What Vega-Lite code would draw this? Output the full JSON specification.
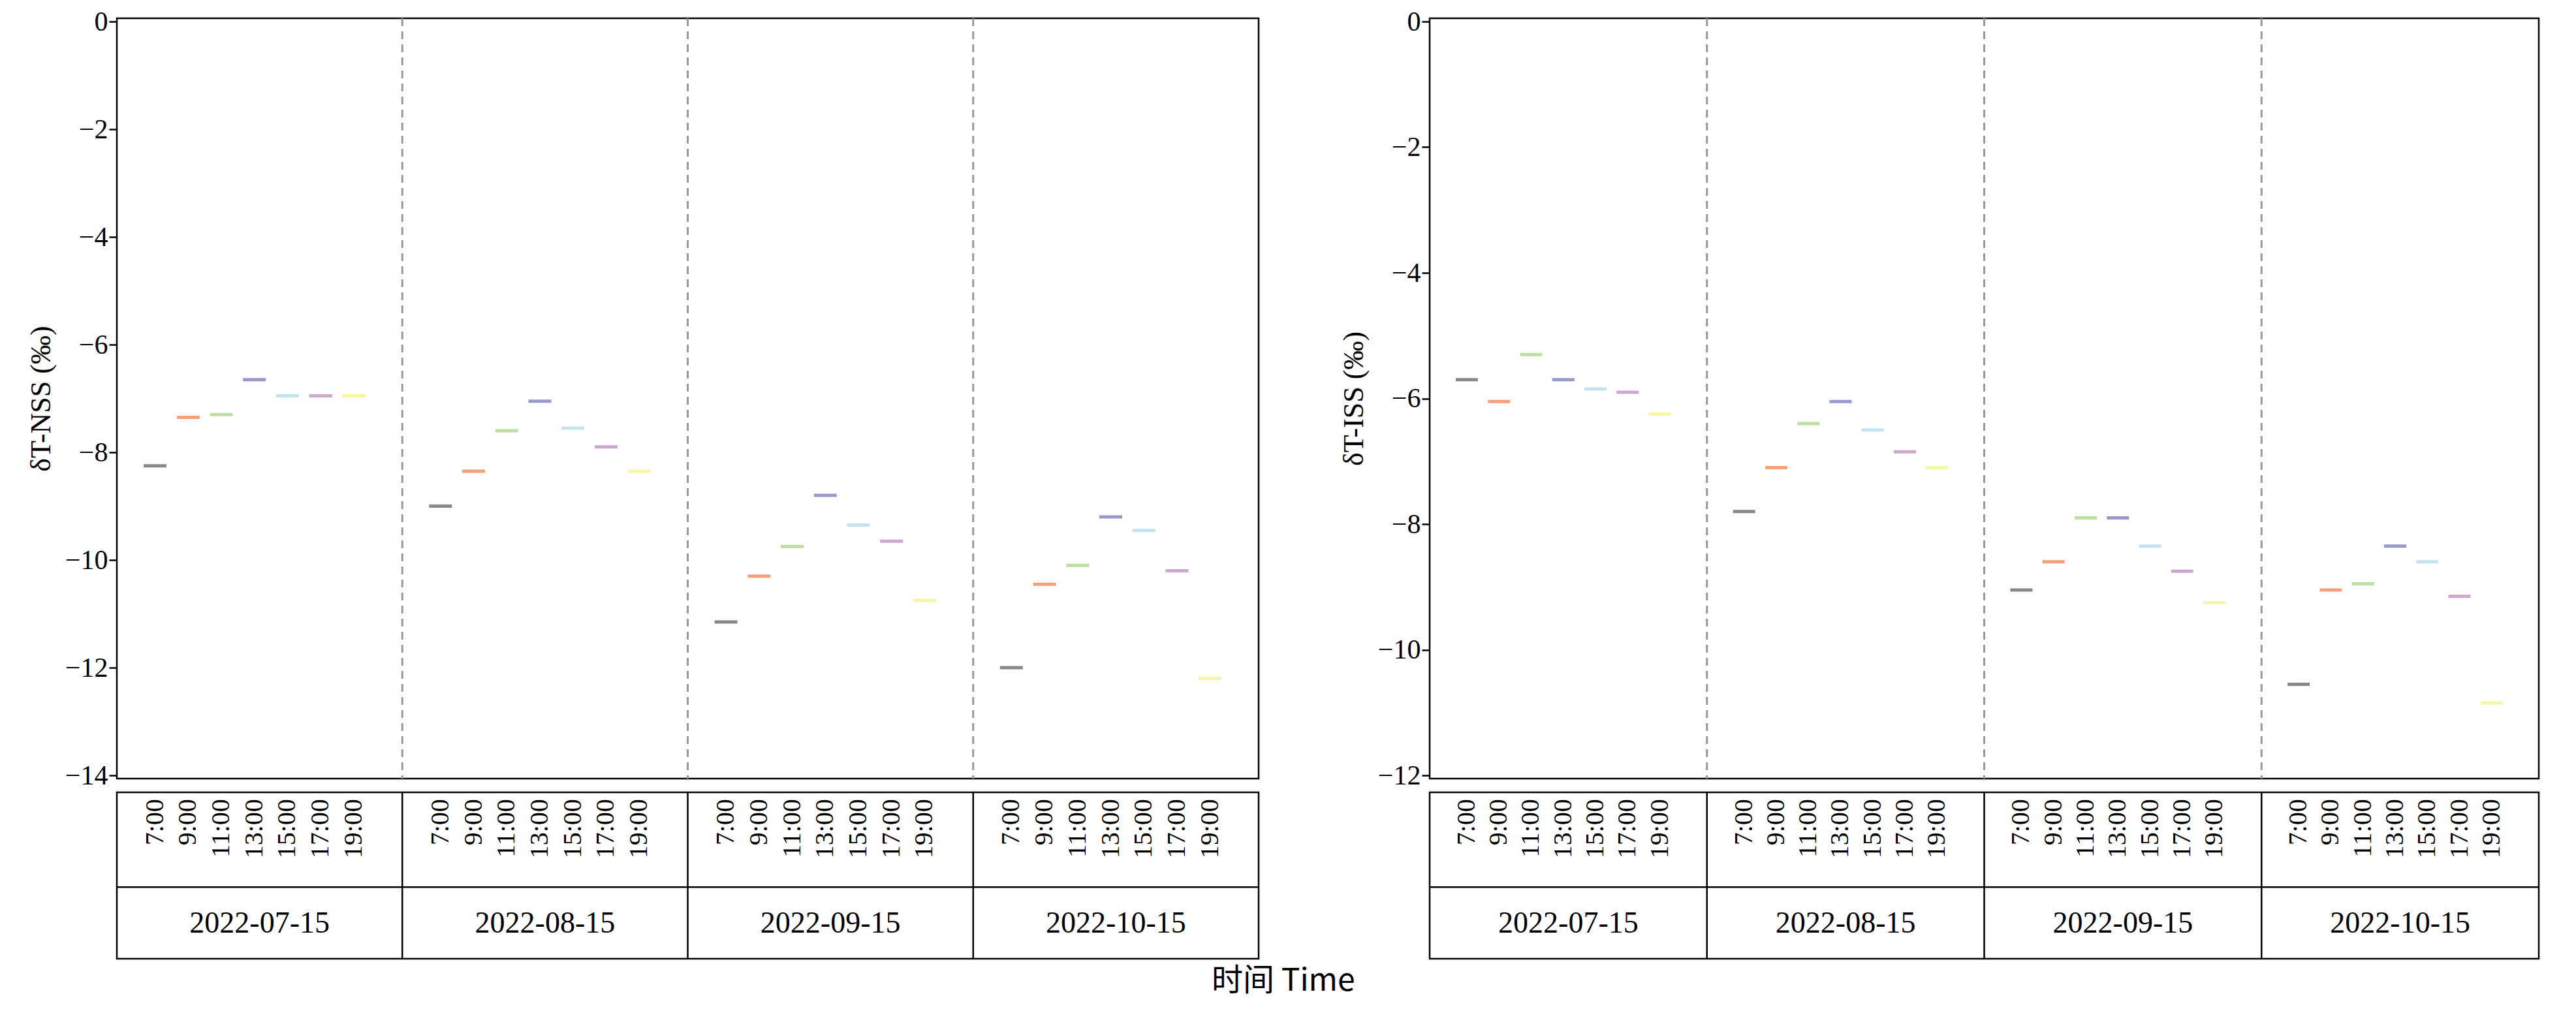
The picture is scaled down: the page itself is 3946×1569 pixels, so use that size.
{
  "$schema": "https://vega.github.io/schema/vega-lite/v6.json",
  "background": "white",
  "padding": {"left": 40, "top": 10, "right": 30, "bottom": 10},
  "datasets": {
    "d": [
      {"p": "N", "date": "2022-07-15", "g": 0, "i": 0, "time": "7:00", "v": -8.25},
      {"p": "N", "date": "2022-07-15", "g": 0, "i": 1, "time": "9:00", "v": -7.35},
      {"p": "N", "date": "2022-07-15", "g": 0, "i": 2, "time": "11:00", "v": -7.3},
      {"p": "N", "date": "2022-07-15", "g": 0, "i": 3, "time": "13:00", "v": -6.65},
      {"p": "N", "date": "2022-07-15", "g": 0, "i": 4, "time": "15:00", "v": -6.95},
      {"p": "N", "date": "2022-07-15", "g": 0, "i": 5, "time": "17:00", "v": -6.95},
      {"p": "N", "date": "2022-07-15", "g": 0, "i": 6, "time": "19:00", "v": -6.95},
      {"p": "N", "date": "2022-08-15", "g": 1, "i": 0, "time": "7:00", "v": -9.0},
      {"p": "N", "date": "2022-08-15", "g": 1, "i": 1, "time": "9:00", "v": -8.35},
      {"p": "N", "date": "2022-08-15", "g": 1, "i": 2, "time": "11:00", "v": -7.6},
      {"p": "N", "date": "2022-08-15", "g": 1, "i": 3, "time": "13:00", "v": -7.05},
      {"p": "N", "date": "2022-08-15", "g": 1, "i": 4, "time": "15:00", "v": -7.55},
      {"p": "N", "date": "2022-08-15", "g": 1, "i": 5, "time": "17:00", "v": -7.9},
      {"p": "N", "date": "2022-08-15", "g": 1, "i": 6, "time": "19:00", "v": -8.35},
      {"p": "N", "date": "2022-09-15", "g": 2, "i": 0, "time": "7:00", "v": -11.15},
      {"p": "N", "date": "2022-09-15", "g": 2, "i": 1, "time": "9:00", "v": -10.3},
      {"p": "N", "date": "2022-09-15", "g": 2, "i": 2, "time": "11:00", "v": -9.75},
      {"p": "N", "date": "2022-09-15", "g": 2, "i": 3, "time": "13:00", "v": -8.8},
      {"p": "N", "date": "2022-09-15", "g": 2, "i": 4, "time": "15:00", "v": -9.35},
      {"p": "N", "date": "2022-09-15", "g": 2, "i": 5, "time": "17:00", "v": -9.65},
      {"p": "N", "date": "2022-09-15", "g": 2, "i": 6, "time": "19:00", "v": -10.75},
      {"p": "N", "date": "2022-10-15", "g": 3, "i": 0, "time": "7:00", "v": -12.0},
      {"p": "N", "date": "2022-10-15", "g": 3, "i": 1, "time": "9:00", "v": -10.45},
      {"p": "N", "date": "2022-10-15", "g": 3, "i": 2, "time": "11:00", "v": -10.1},
      {"p": "N", "date": "2022-10-15", "g": 3, "i": 3, "time": "13:00", "v": -9.2},
      {"p": "N", "date": "2022-10-15", "g": 3, "i": 4, "time": "15:00", "v": -9.45},
      {"p": "N", "date": "2022-10-15", "g": 3, "i": 5, "time": "17:00", "v": -10.2},
      {"p": "N", "date": "2022-10-15", "g": 3, "i": 6, "time": "19:00", "v": -12.2},
      {"p": "I", "date": "2022-07-15", "g": 0, "i": 0, "time": "7:00", "v": -5.7},
      {"p": "I", "date": "2022-07-15", "g": 0, "i": 1, "time": "9:00", "v": -6.05},
      {"p": "I", "date": "2022-07-15", "g": 0, "i": 2, "time": "11:00", "v": -5.3},
      {"p": "I", "date": "2022-07-15", "g": 0, "i": 3, "time": "13:00", "v": -5.7},
      {"p": "I", "date": "2022-07-15", "g": 0, "i": 4, "time": "15:00", "v": -5.85},
      {"p": "I", "date": "2022-07-15", "g": 0, "i": 5, "time": "17:00", "v": -5.9},
      {"p": "I", "date": "2022-07-15", "g": 0, "i": 6, "time": "19:00", "v": -6.25},
      {"p": "I", "date": "2022-08-15", "g": 1, "i": 0, "time": "7:00", "v": -7.8},
      {"p": "I", "date": "2022-08-15", "g": 1, "i": 1, "time": "9:00", "v": -7.1},
      {"p": "I", "date": "2022-08-15", "g": 1, "i": 2, "time": "11:00", "v": -6.4},
      {"p": "I", "date": "2022-08-15", "g": 1, "i": 3, "time": "13:00", "v": -6.05},
      {"p": "I", "date": "2022-08-15", "g": 1, "i": 4, "time": "15:00", "v": -6.5},
      {"p": "I", "date": "2022-08-15", "g": 1, "i": 5, "time": "17:00", "v": -6.85},
      {"p": "I", "date": "2022-08-15", "g": 1, "i": 6, "time": "19:00", "v": -7.1},
      {"p": "I", "date": "2022-09-15", "g": 2, "i": 0, "time": "7:00", "v": -9.05},
      {"p": "I", "date": "2022-09-15", "g": 2, "i": 1, "time": "9:00", "v": -8.6},
      {"p": "I", "date": "2022-09-15", "g": 2, "i": 2, "time": "11:00", "v": -7.9},
      {"p": "I", "date": "2022-09-15", "g": 2, "i": 3, "time": "13:00", "v": -7.9},
      {"p": "I", "date": "2022-09-15", "g": 2, "i": 4, "time": "15:00", "v": -8.35},
      {"p": "I", "date": "2022-09-15", "g": 2, "i": 5, "time": "17:00", "v": -8.75},
      {"p": "I", "date": "2022-09-15", "g": 2, "i": 6, "time": "19:00", "v": -9.25},
      {"p": "I", "date": "2022-10-15", "g": 3, "i": 0, "time": "7:00", "v": -10.55},
      {"p": "I", "date": "2022-10-15", "g": 3, "i": 1, "time": "9:00", "v": -9.05},
      {"p": "I", "date": "2022-10-15", "g": 3, "i": 2, "time": "11:00", "v": -8.95},
      {"p": "I", "date": "2022-10-15", "g": 3, "i": 3, "time": "13:00", "v": -8.35},
      {"p": "I", "date": "2022-10-15", "g": 3, "i": 4, "time": "15:00", "v": -8.6},
      {"p": "I", "date": "2022-10-15", "g": 3, "i": 5, "time": "17:00", "v": -9.15},
      {"p": "I", "date": "2022-10-15", "g": 3, "i": 6, "time": "19:00", "v": -10.85}
    ]
  },
  "title": {"text": "时间 Time", "orient": "bottom", "font": "Noto Sans CJK SC", "fontSize": 48, "fontWeight": "normal", "offset": 8, "anchor": "middle"},
  "config": {
    "view": {"stroke": "black", "strokeWidth": 2.5},
    "axis": {"labelFont": "Liberation Serif", "titleFont": "Liberation Serif", "labelFontSize": 42, "titleFontSize": 44, "titleFontWeight": "normal", "labelColor": "black", "titleColor": "black", "tickColor": "black", "domainColor": "black", "tickSize": 12, "tickWidth": 2.5, "domain": false, "grid": false},
    "text": {"font": "Liberation Serif"}
  },
  "spacing": 120,
  "hconcat": [
    {
      "spacing": 0,
      "vconcat": [
        {
          "width": 1749, "height": 1165,
          "data": {"name": "d"},
          "transform": [{"filter": "datum.p == 'N'"}, {"calculate": "datum.g + 0.094 + 0.116 * datum.i", "as": "x0"}, {"calculate": "datum.x0 + 0.08", "as": "x1"}],
          "layer": [
            {
              "mark": {"type": "bar"},
              "encoding": {
                "x": {"field": "x0", "type": "quantitative", "scale": {"domain": [0, 4], "padding": 0, "nice": false, "zero": false}, "axis": null},
                "x2": {"field": "x1"},
                "y": {"field": "v", "type": "quantitative", "scale": {"domain": [-14, 0], "nice": false}, "axis": {"values": [0, -2, -4, -6, -8, -10, -12, -14], "labelExpr": "replace(datum.label, '-', '−')", "title": "δT-NSS (‰)", "titlePadding": 14}},
                "color": {"field": "time", "type": "nominal", "legend": null, "scale": {"domain": ["7:00", "9:00", "11:00", "13:00", "15:00", "17:00", "19:00"], "range": ["#888888", "#f4a07a", "#bde0a0", "#9898cc", "#c4e4f0", "#cfa8d0", "#f4f6a8"]}}
              }
            },
            {
              "transform": [{"filter": "datum.i == 0 && datum.g > 0"}],
              "mark": {"type": "rule", "color": "#999999", "strokeWidth": 3, "strokeDash": [12, 8]},
              "encoding": {"x": {"field": "g", "type": "quantitative"}}
            }
          ]
        },
        {
          "width": 1749, "height": 255,
          "data": {"name": "d"},
          "transform": [{"filter": "datum.p == 'N'"}, {"calculate": "datum.g + 0.134 + 0.116 * datum.i", "as": "pos"}],
          "encoding": {"x": {"type": "quantitative", "scale": {"domain": [0, 4], "padding": 0, "nice": false}, "axis": null}},
          "layer": [
            {
              "mark": {"type": "text", "angle": 270, "align": "right", "baseline": "middle", "fontSize": 40},
              "encoding": {"x": {"field": "pos", "type": "quantitative"}, "y": {"datum": 0.96, "type": "quantitative", "scale": {"domain": [0, 1]}, "axis": null}, "text": {"field": "time"}}
            },
            {
              "transform": [{"filter": "datum.i == 0"}, {"calculate": "datum.g + 0.5", "as": "mid"}],
              "mark": {"type": "text", "fontSize": 46, "baseline": "middle"},
              "encoding": {"x": {"field": "mid", "type": "quantitative"}, "y": {"datum": 0.21, "type": "quantitative"}, "text": {"field": "date"}}
            },
            {
              "transform": [{"filter": "datum.i == 0 && datum.g > 0"}],
              "mark": {"type": "rule", "color": "black", "strokeWidth": 2.5},
              "encoding": {"x": {"field": "g", "type": "quantitative"}, "y": {"datum": 0, "type": "quantitative"}, "y2": {"datum": 1}}
            },
            {
              "transform": [{"filter": "datum.i == 0 && datum.g == 0"}],
              "mark": {"type": "rule", "color": "black", "strokeWidth": 2.5},
              "encoding": {"x": {"datum": 0, "type": "quantitative"}, "x2": {"datum": 4}, "y": {"datum": 0.43, "type": "quantitative"}}
            }
          ]
        }
      ]
    },
    {
      "spacing": 0,
      "vconcat": [
        {
          "width": 1699, "height": 1165,
          "data": {"name": "d"},
          "transform": [{"filter": "datum.p == 'I'"}, {"calculate": "datum.g + 0.094 + 0.116 * datum.i", "as": "x0"}, {"calculate": "datum.x0 + 0.08", "as": "x1"}],
          "layer": [
            {
              "mark": {"type": "bar"},
              "encoding": {
                "x": {"field": "x0", "type": "quantitative", "scale": {"domain": [0, 4], "padding": 0, "nice": false, "zero": false}, "axis": null},
                "x2": {"field": "x1"},
                "y": {"field": "v", "type": "quantitative", "scale": {"domain": [-12, 0], "nice": false}, "axis": {"values": [0, -2, -4, -6, -8, -10, -12], "labelExpr": "replace(datum.label, '-', '−')", "title": "δT-ISS (‰)", "titlePadding": 14}},
                "color": {"field": "time", "type": "nominal", "legend": null, "scale": {"domain": ["7:00", "9:00", "11:00", "13:00", "15:00", "17:00", "19:00"], "range": ["#888888", "#f4a07a", "#bde0a0", "#9898cc", "#c4e4f0", "#cfa8d0", "#f4f6a8"]}}
              }
            },
            {
              "transform": [{"filter": "datum.i == 0 && datum.g > 0"}],
              "mark": {"type": "rule", "color": "#999999", "strokeWidth": 3, "strokeDash": [12, 8]},
              "encoding": {"x": {"field": "g", "type": "quantitative"}}
            }
          ]
        },
        {
          "width": 1699, "height": 255,
          "data": {"name": "d"},
          "transform": [{"filter": "datum.p == 'I'"}, {"calculate": "datum.g + 0.134 + 0.116 * datum.i", "as": "pos"}],
          "encoding": {"x": {"type": "quantitative", "scale": {"domain": [0, 4], "padding": 0, "nice": false}, "axis": null}},
          "layer": [
            {
              "mark": {"type": "text", "angle": 270, "align": "right", "baseline": "middle", "fontSize": 40},
              "encoding": {"x": {"field": "pos", "type": "quantitative"}, "y": {"datum": 0.96, "type": "quantitative", "scale": {"domain": [0, 1]}, "axis": null}, "text": {"field": "time"}}
            },
            {
              "transform": [{"filter": "datum.i == 0"}, {"calculate": "datum.g + 0.5", "as": "mid"}],
              "mark": {"type": "text", "fontSize": 46, "baseline": "middle"},
              "encoding": {"x": {"field": "mid", "type": "quantitative"}, "y": {"datum": 0.21, "type": "quantitative"}, "text": {"field": "date"}}
            },
            {
              "transform": [{"filter": "datum.i == 0 && datum.g > 0"}],
              "mark": {"type": "rule", "color": "black", "strokeWidth": 2.5},
              "encoding": {"x": {"field": "g", "type": "quantitative"}, "y": {"datum": 0, "type": "quantitative"}, "y2": {"datum": 1}}
            },
            {
              "transform": [{"filter": "datum.i == 0 && datum.g == 0"}],
              "mark": {"type": "rule", "color": "black", "strokeWidth": 2.5},
              "encoding": {"x": {"datum": 0, "type": "quantitative"}, "x2": {"datum": 4}, "y": {"datum": 0.43, "type": "quantitative"}}
            }
          ]
        }
      ]
    }
  ]
}
